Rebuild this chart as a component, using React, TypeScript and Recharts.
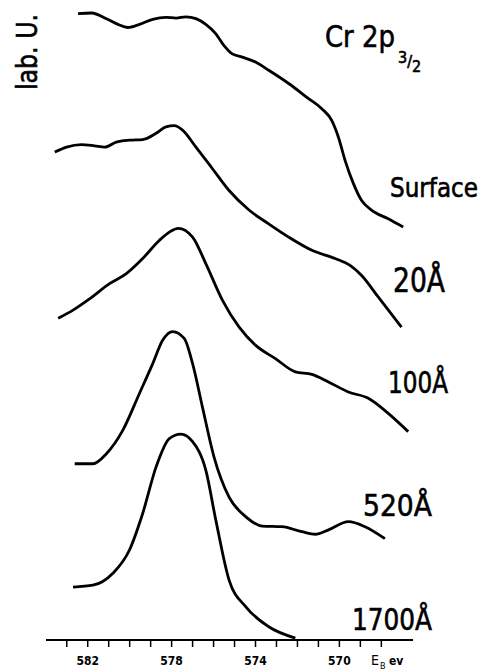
import { Line, LineChart, XAxis, YAxis } from "recharts";

// binding energy (eV) and intensity (arb. units, 0 = axis) for each depth
const surfaceE = [582.46, 581.82, 581.11, 580.56, 580.09, 579.53, 578.9, 578.27, 577.79, 577.32, 576.84, 576.37, 575.89, 575.5, 575.11, 574.63, 574.0, 573.37, 572.42, 571.47, 570.84, 570.36, 570.05, 569.73, 569.33, 568.94, 568.47, 567.67, 566.96];
const surfaceI = [99.5, 99.6, 98.7, 97.8, 97.3, 97.8, 98.6, 98.9, 98.8, 99.0, 98.7, 97.8, 96.3, 94.4, 93.1, 92.6, 91.8, 90.5, 88.4, 86.0, 84.4, 82.5, 79.9, 76.2, 72.5, 69.8, 68.3, 66.9, 65.6];

const d20E = [583.57, 583.01, 582.3, 581.67, 581.19, 580.64, 580.01, 579.38, 578.74, 578.27, 577.87, 577.48, 576.84, 576.06, 575.26, 574.31, 573.37, 572.42, 571.31, 570.2, 569.49, 568.94, 568.15, 567.04];
const d20I = [77.5, 78.3, 78.7, 78.5, 78.3, 79.1, 79.4, 79.5, 80.5, 81.5, 81.7, 81.0, 78.3, 74.9, 71.4, 68.3, 66.1, 64.0, 61.9, 60.6, 59.5, 57.9, 54.5, 49.7];

const d100E = [583.41, 582.7, 581.91, 580.96, 580.16, 579.38, 578.58, 578.11, 577.68, 577.0, 576.37, 575.58, 574.78, 573.99, 573.05, 572.1, 571.31, 570.52, 569.57, 568.62, 567.67, 566.72];
const d100I = [51.1, 52.4, 54.2, 56.6, 58.2, 60.6, 63.5, 64.8, 65.4, 64.0, 59.8, 54.0, 49.7, 46.8, 44.7, 42.6, 42.2, 41.0, 39.4, 38.4, 36.0, 33.1];

const d520E = [582.62, 581.75, 581.11, 580.33, 579.53, 578.9, 578.43, 577.95, 577.4, 577.0, 576.53, 575.98, 575.26, 574.47, 573.68, 572.74, 571.79, 571.15, 570.52, 569.57, 568.78, 567.83];
const d520I = [28.0, 28.0, 29.6, 33.3, 39.2, 43.9, 47.6, 49.0, 47.9, 43.9, 37.0, 29.1, 22.7, 19.6, 18.1, 18.0, 17.2, 16.8, 17.5, 18.8, 18.0, 16.1];

const d1700E = [582.7, 581.75, 580.8, 580.01, 579.38, 578.74, 578.11, 577.56, 577.0, 576.37, 575.89, 575.26, 574.47, 573.37, 572.1];
const d1700I = [8.4, 8.7, 10.6, 14.3, 20.1, 27.5, 32.0, 32.7, 31.5, 27.0, 19.0, 9.5, 5.3, 2.1, 0.3];

const xTicks = [583, 582, 581, 580, 579, 578, 577, 576, 575, 574, 573, 572, 571, 570, 569, 568];
const xLabels = [582, 578, 574, 570];

const zip = (e: number[], i: number[]) => e.map((v, k) => ({ e: v, i: i[k] }));

const series = [
  { name: "Surface", data: zip(surfaceE, surfaceI) },
  { name: "20Å", data: zip(d20E, d20I) },
  { name: "100Å", data: zip(d100E, d100I) },
  { name: "520Å", data: zip(d520E, d520I) },
  { name: "1700Å", data: zip(d1700E, d1700I) },
];

const font = "'DejaVu Sans Condensed', 'DejaVu Sans', sans-serif";
// heavier lettering, like the hand-lettered original
const ink = { stroke: "#000", strokeWidth: 0.6 };

export default function App() {
  return (
    <div style={{ position: "relative", width: 485, height: 670, background: "#fff", fontFamily: font }}>
      <style>{`body{margin:0}`}</style>
      <LineChart width={485} height={670} margin={{ top: 13, right: 72, left: 46, bottom: 0 }}>
        <XAxis
          type="number"
          dataKey="e"
          domain={[566.49, 583.99]}
          reversed
          ticks={xTicks}
          interval={0}
          height={30}
          tickSize={7}
          tickMargin={9}
          axisLine={{ stroke: "#000", strokeWidth: 2 }}
          tickLine={{ stroke: "#000", strokeWidth: 1.5 }}
          tick={{ fill: "#000", fontSize: 12, fontWeight: 700, fontFamily: font }}
          tickFormatter={(v: number) => (xLabels.includes(v) ? `${v}` : "")}
          allowDuplicatedCategory={false}
        />
        <YAxis
          type="number"
          domain={[0, 99.6]}
          width={0}
          tick={false}
          tickLine={false}
          axisLine={{ stroke: "#000", strokeWidth: 2 }}
        />
        {series.map((s) => (
          <Line
            key={s.name}
            data={s.data}
            dataKey="i"
            type="monotone"
            stroke="#000"
            strokeWidth={2.8}
            dot={false}
            isAnimationActive={false}
            name={s.name}
          />
        ))}
      </LineChart>
      <svg
        width={485}
        height={670}
        style={{ position: "absolute", left: 0, top: 0, pointerEvents: "none" }}
        fontFamily={font}
        fill="#000"
      >
        <text x={37} y={90} transform="rotate(-90 37 90)" fontSize={28} textLength={76} lengthAdjust="spacingAndGlyphs" {...ink}>
          lab. U.
        </text>
        <text x={325} y={47} fontSize={31} textLength={70} lengthAdjust="spacingAndGlyphs" {...ink}>
          Cr 2p
        </text>
        <text x={398} y={63} fontSize={16} {...ink}>
          <tspan>3</tspan>
          <tspan dy={4}>/</tspan>
          <tspan dy={5}>2</tspan>
        </text>
        <text x={390} y={197} fontSize={26} textLength={88} lengthAdjust="spacingAndGlyphs" {...ink}>
          Surface
        </text>
        <text x={393} y={292} fontSize={33} textLength={52} lengthAdjust="spacingAndGlyphs" {...ink}>
          20Å
        </text>
        <text x={388} y={393} fontSize={31} textLength={60} lengthAdjust="spacingAndGlyphs" {...ink}>
          100Å
        </text>
        <text x={363} y={516} fontSize={31} textLength={69} lengthAdjust="spacingAndGlyphs" {...ink}>
          520Å
        </text>
        <text x={352} y={630} fontSize={31} textLength={80} lengthAdjust="spacingAndGlyphs" {...ink}>
          1700Å
        </text>
        <text x={371} y={665} fontSize={14}>E</text>
        <text x={380} y={669} fontSize={9}>B</text>
        <text x={389} y={665} fontSize={12} fontWeight={700}>ev</text>
      </svg>
    </div>
  );
}
